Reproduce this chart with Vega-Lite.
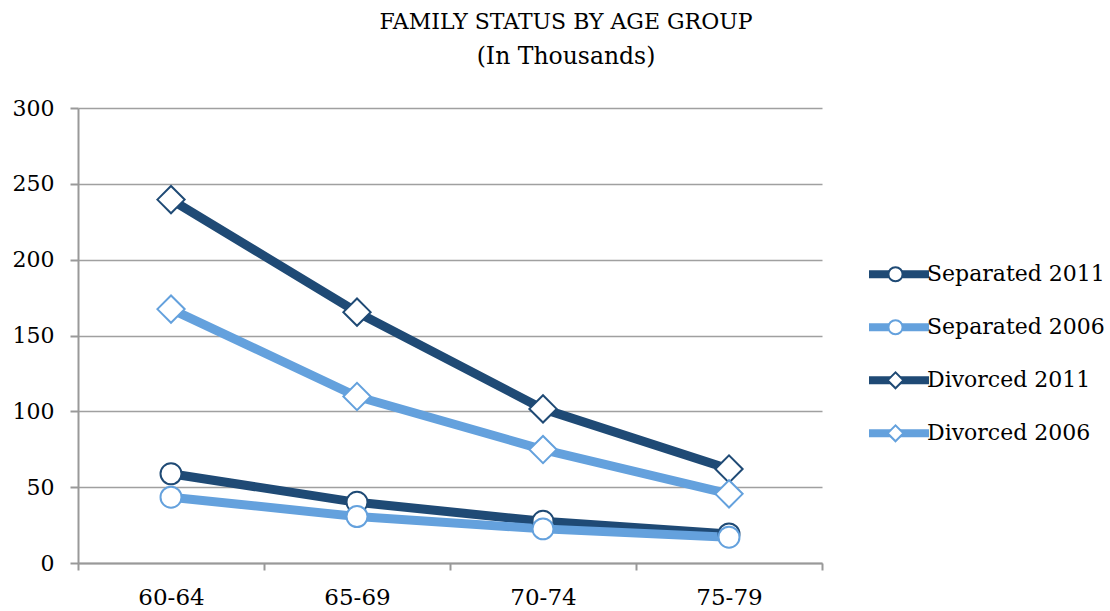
{
  "$schema": "https://vega.github.io/schema/vega-lite/v6.json",
  "width": 744,
  "height": 455,
  "autosize": "none",
  "padding": {"left": 78, "top": 108, "right": 288, "bottom": 48},
  "background": "white",
  "config": {"view": {"stroke": null}},
  "title": {
    "text": "FAMILY STATUS BY AGE GROUP",
    "subtitle": "(In Thousands)",
    "font": "DejaVu Serif",
    "fontSize": 22,
    "fontWeight": "normal",
    "color": "black",
    "subtitleFont": "DejaVu Serif",
    "subtitleFontSize": 23.5,
    "subtitleColor": "black",
    "anchor": "middle",
    "dx": 116,
    "offset": 28,
    "subtitlePadding": 11
  },
  "data": {
    "values": [
      {"age": "60-64", "series": "Separated 2011", "marker": "Separated 2011", "value": 58.8},
      {"age": "65-69", "series": "Separated 2011", "marker": "Separated 2011", "value": 40},
      {"age": "70-74", "series": "Separated 2011", "marker": "Separated 2011", "value": 27.5},
      {"age": "75-79", "series": "Separated 2011", "marker": "Separated 2011", "value": 19.2},
      {"age": "60-64", "series": "Separated 2006", "marker": "Separated 2006", "value": 43.4},
      {"age": "65-69", "series": "Separated 2006", "marker": "Separated 2006", "value": 30.6},
      {"age": "70-74", "series": "Separated 2006", "marker": "Separated 2006", "value": 22.5},
      {"age": "75-79", "series": "Separated 2006", "marker": "Separated 2006", "value": 17},
      {"age": "60-64", "series": "Divorced 2011", "marker": "Divorced 2011", "value": 239.6},
      {"age": "65-69", "series": "Divorced 2011", "marker": "Divorced 2011", "value": 165.4},
      {"age": "70-74", "series": "Divorced 2011", "marker": "Divorced 2011", "value": 101.6},
      {"age": "75-79", "series": "Divorced 2011", "marker": "Divorced 2011", "value": 62},
      {"age": "60-64", "series": "Divorced 2006", "marker": "Divorced 2006", "value": 167.4},
      {"age": "65-69", "series": "Divorced 2006", "marker": "Divorced 2006", "value": 109.8},
      {"age": "70-74", "series": "Divorced 2006", "marker": "Divorced 2006", "value": 74.8},
      {"age": "75-79", "series": "Divorced 2006", "marker": "Divorced 2006", "value": 45.6}
    ]
  },
  "encoding": {
    "x": {
      "field": "age",
      "type": "ordinal",
      "scale": {"paddingInner": 0, "paddingOuter": 0},
      "axis": {
        "title": null,
        "grid": false,
        "domainColor": "#999999",
        "domainWidth": 2,
        "tickColor": "#999999",
        "tickWidth": 2,
        "tickSize": 7,
        "tickBand": "extent",
        "labelFont": "DejaVu Serif",
        "labelFontSize": 23,
        "labelColor": "black",
        "labelPadding": 16,
        "labelAngle": 0
      }
    },
    "y": {
      "field": "value",
      "type": "quantitative",
      "scale": {"domain": [0, 300], "nice": false},
      "axis": {
        "title": null,
        "values": [0, 50, 100, 150, 200, 250, 300],
        "domainColor": "#999999",
        "domainWidth": 2,
        "tickColor": "#999999",
        "tickWidth": 2,
        "tickSize": 8,
        "gridColor": "#a0a0a0",
        "gridWidth": 1.5,
        "labelFont": "DejaVu Serif",
        "labelFontSize": 22,
        "labelColor": "black",
        "labelPadding": 16
      }
    }
  },
  "layer": [
    {
      "mark": {"type": "line", "strokeWidth": 9, "strokeJoin": "round"},
      "encoding": {
        "color": {
          "field": "series",
          "type": "nominal",
          "scale": {
            "domain": ["Separated 2011", "Separated 2006", "Divorced 2011", "Divorced 2006"],
            "range": ["#1f4a75", "#64a1dd", "#1f4a75", "#64a1dd"]
          },
          "legend": {
            "orient": "none",
            "legendX": 787,
            "legendY": 140,
            "title": null,
            "symbolType": "stroke",
            "symbolSize": 3600,
            "symbolStrokeWidth": 8,
            "labelFont": "DejaVu Serif",
            "labelFontSize": 22,
            "labelColor": "black",
            "labelOffset": -6,
            "labelLimit": 400,
            "clipHeight": 52.6,
            "rowPadding": 0,
            "padding": 0
          }
        }
      }
    },
    {
      "mark": {"type": "point", "filled": true, "fill": "white", "strokeWidth": 2, "opacity": 1, "size": 440},
      "encoding": {
        "shape": {
          "field": "marker",
          "type": "nominal",
          "sort": ["Separated 2011", "Separated 2006", "Divorced 2011", "Divorced 2006"],
          "scale": {"range": ["circle", "circle", "M-1.3,0L0,-1.3L1.3,0L0,1.3Z", "M-1.3,0L0,-1.3L1.3,0L0,1.3Z"]},
          "legend": null
        },
        "stroke": {
          "field": "marker",
          "type": "nominal",
          "sort": ["Separated 2011", "Separated 2006", "Divorced 2011", "Divorced 2006"],
          "scale": {"range": ["#1f4a75", "#64a1dd", "#1f4a75", "#64a1dd"]},
          "legend": {
            "orient": "none",
            "legendX": 809,
            "legendY": 140,
            "title": null,
            "symbolType": {"expr": "indexof(datum.value, 'Divorced') >= 0 ? 'M-1.12,0L0,-1.12L1.12,0L0,1.12Z' : 'circle'"},
            "symbolSize": 200,
            "symbolStrokeWidth": 2,
            "symbolFillColor": "white",
            "labelExpr": "''",
            "clipHeight": 52.6,
            "rowPadding": 0,
            "padding": 0
          }
        }
      }
    }
  ]
}
